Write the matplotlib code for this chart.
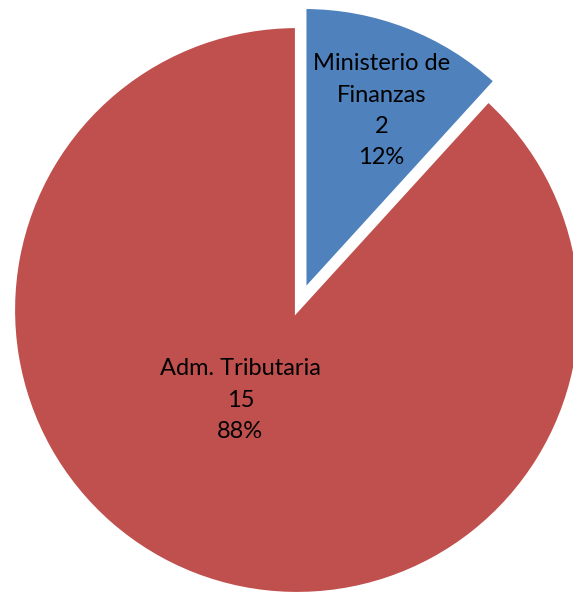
import numpy as np
import matplotlib.pyplot as plt

# ------------------------------------------------------------------
# data
list_labels = ["Ministerio de\nFinanzas", "Adm. Tributaria"]
list_values = [2, 15]
list_colors = ["#4F81BD", "#C0504D"]
list_explode = [0.072, 0.0]

plt.rcParams["font.family"] = ["Lato", "DejaVu Sans"]

fig = plt.figure(figsize=(5.73, 5.92), dpi=100)
ax = fig.add_axes([0, 0, 1, 1])

wedges, _ = ax.pie(list_values, colors=list_colors, explode=list_explode,
                   startangle=90, counterclock=False, radius=1.0,
                   wedgeprops=dict(edgecolor="white", linewidth=3))

total = sum(list_values)
# label placement: (radius fraction, angle shift in degrees)
label_place = [(0.69, -2.0), (0.375, -11.0)]
for crrt_wedge, crrt_label, crrt_value, crrt_explode, (rr, dang) in zip(
        wedges, list_labels, list_values, list_explode, label_place):
    mid = 0.5 * (crrt_wedge.theta1 + crrt_wedge.theta2)
    cx, cy = crrt_wedge.center
    ang = np.deg2rad(mid + dang)
    txt = "{}\n{}\n{:.0f}%".format(crrt_label, crrt_value, 100.0 * crrt_value / total)
    ax.text(cx + rr * np.cos(ang), cy + rr * np.sin(ang), txt,
            ha="center", va="center", fontsize=17, linespacing=1.6, color="black")

# place the pie in pixels like the original: centre at (297, 310), radius 284
ax.set_aspect("auto")
ax.set_xlim(-297 / 284, (573 - 297) / 284)
ax.set_ylim(-(592 - 310) / 284, 310 / 284)
ax.axis("off")

plt.savefig("out.png", dpi=100)
